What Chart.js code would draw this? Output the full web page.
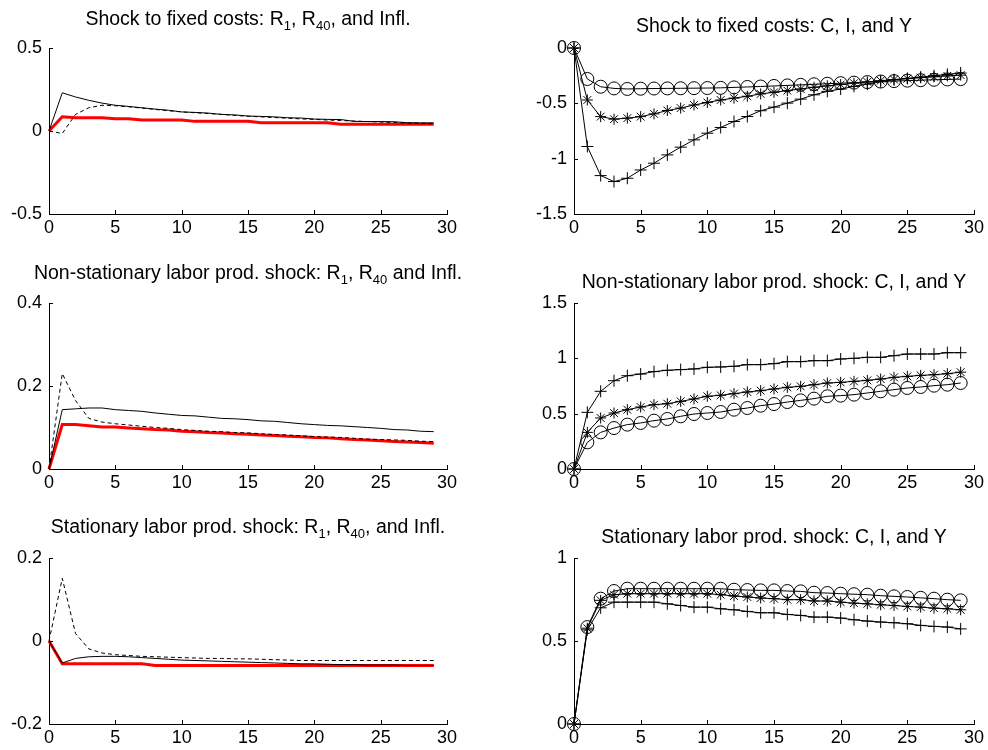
<!DOCTYPE html>
<html lang="en">
<head>
  <meta charset="UTF-8">
  <title>Impulse responses: R1, R40, Infl. and C, I, Y</title>
  <script src="https://cdn.jsdelivr.net/npm/chart.js"></script>
  <style>
    body { margin: 0; background: #fff; font-family: "Liberation Sans", Arial, sans-serif; }
    #page { position: relative; width: 988px; height: 750px; overflow: hidden; }
    .panel { position: absolute; width: 494px; height: 240px; }
    .ttl {
      position: absolute;
      font-size: 19.5px;
      line-height: 19px;
      white-space: nowrap;
      color: #000;
      transform: translateX(-50%);
    }
    .ttl sub { font-size: 13px; vertical-align: -5px; line-height: 0; }
  </style>
</head>
<body>
<div id="page">
  <canvas class="panel" id="c11" width="494" height="240" style="left:0;top:0"></canvas>
  <canvas class="panel" id="c12" width="494" height="240" style="left:494px;top:0"></canvas>
  <canvas class="panel" id="c21" width="494" height="240" style="left:0;top:255px"></canvas>
  <canvas class="panel" id="c22" width="494" height="240" style="left:494px;top:255px"></canvas>
  <canvas class="panel" id="c31" width="494" height="240" style="left:0;top:510px"></canvas>
  <canvas class="panel" id="c32" width="494" height="240" style="left:494px;top:510px"></canvas>

  <div class="ttl" style="left:248px;top:9px">Shock to fixed costs: R<sub>1</sub>, R<sub>40</sub>, and Infl.</div>
  <div class="ttl" style="left:774px;top:16px">Shock to fixed costs: C, I, and Y</div>
  <div class="ttl" style="left:248px;top:263px">Non-stationary labor prod. shock: R<sub>1</sub>, R<sub>40</sub> and Infl.</div>
  <div class="ttl" style="left:774px;top:272px">Non-stationary labor prod. shock: C, I, and Y</div>
  <div class="ttl" style="left:248px;top:517px">Stationary labor prod. shock: R<sub>1</sub>, R<sub>40</sub>, and Infl.</div>
  <div class="ttl" style="left:774px;top:527px">Stationary labor prod. shock: C, I, and Y</div>
</div>

<script>
// horizon (quarters)
const periods = [0, 1, 2, 3, 4, 5, 6, 7, 8, 9, 10, 11, 12, 13, 14, 15, 16, 17, 18, 19, 20, 21, 22, 23, 24, 25, 26, 27, 28, 29];
const xTicks = [0, 5, 10, 15, 20, 25, 30];

// shock to fixed costs
const fcR1   = [0, 0.23, 0.205, 0.185, 0.168, 0.155, 0.148, 0.14, 0.132, 0.125, 0.115, 0.112, 0.108, 0.1, 0.097, 0.09, 0.088, 0.085, 0.08, 0.078, 0.072, 0.07, 0.069, 0.058, 0.057, 0.057, 0.056, 0.05, 0.049, 0.049];
const fcR40  = [0, -0.015, 0.1, 0.14, 0.155, 0.152, 0.146, 0.138, 0.13, 0.122, 0.115, 0.11, 0.105, 0.1, 0.094, 0.089, 0.085, 0.081, 0.077, 0.073, 0.07, 0.066, 0.063, 0.06, 0.057, 0.054, 0.051, 0.048, 0.046, 0.044];
const fcInfl = [0, 0.086, 0.08, 0.08, 0.08, 0.074, 0.074, 0.066, 0.066, 0.066, 0.066, 0.058, 0.058, 0.058, 0.058, 0.058, 0.05, 0.05, 0.05, 0.05, 0.05, 0.05, 0.04, 0.04, 0.04, 0.04, 0.04, 0.04, 0.04, 0.04];
const fcC = [0, -0.28, -0.35, -0.365, -0.37, -0.368, -0.366, -0.365, -0.364, -0.363, -0.362, -0.36, -0.356, -0.352, -0.348, -0.343, -0.338, -0.333, -0.328, -0.323, -0.318, -0.313, -0.308, -0.303, -0.299, -0.295, -0.291, -0.287, -0.284, -0.281];
const fcI = [0, -0.89, -1.153, -1.207, -1.177, -1.102, -1.041, -0.966, -0.896, -0.83, -0.77, -0.718, -0.664, -0.619, -0.567, -0.534, -0.498, -0.462, -0.423, -0.392, -0.371, -0.347, -0.326, -0.305, -0.287, -0.275, -0.263, -0.251, -0.238, -0.226];
const fcY = [0, -0.47, -0.62, -0.643, -0.634, -0.62, -0.595, -0.565, -0.543, -0.515, -0.492, -0.47, -0.453, -0.436, -0.415, -0.4, -0.385, -0.37, -0.355, -0.342, -0.33, -0.318, -0.306, -0.295, -0.285, -0.277, -0.268, -0.26, -0.252, -0.245];

// non-stationary labor productivity shock
const nsR1   = [0, 0.143, 0.145, 0.147, 0.147, 0.143, 0.141, 0.139, 0.135, 0.132, 0.129, 0.128, 0.125, 0.122, 0.121, 0.119, 0.116, 0.115, 0.112, 0.109, 0.107, 0.105, 0.104, 0.102, 0.1, 0.098, 0.095, 0.094, 0.091, 0.09];
const nsR40  = [0, 0.23, 0.165, 0.122, 0.113, 0.109, 0.106, 0.103, 0.1, 0.098, 0.095, 0.093, 0.091, 0.09, 0.088, 0.087, 0.085, 0.083, 0.082, 0.08, 0.078, 0.077, 0.076, 0.074, 0.072, 0.071, 0.07, 0.069, 0.067, 0.066];
const nsInfl = [0, 0.107, 0.107, 0.104, 0.101, 0.101, 0.099, 0.097, 0.095, 0.094, 0.091, 0.09, 0.088, 0.087, 0.085, 0.084, 0.082, 0.081, 0.079, 0.078, 0.076, 0.075, 0.073, 0.071, 0.07, 0.068, 0.066, 0.065, 0.064, 0.062];
const nsC = [0, 0.241, 0.331, 0.37, 0.401, 0.416, 0.437, 0.452, 0.476, 0.497, 0.506, 0.515, 0.536, 0.551, 0.572, 0.587, 0.605, 0.62, 0.636, 0.657, 0.663, 0.672, 0.687, 0.702, 0.717, 0.732, 0.741, 0.753, 0.762, 0.777];
const nsI = [0, 0.512, 0.702, 0.798, 0.843, 0.858, 0.88, 0.892, 0.898, 0.904, 0.919, 0.922, 0.928, 0.943, 0.943, 0.952, 0.97, 0.97, 0.979, 0.979, 0.994, 1.0, 1.009, 1.009, 1.024, 1.039, 1.039, 1.039, 1.051, 1.051];
const nsY = [0, 0.331, 0.461, 0.506, 0.536, 0.56, 0.581, 0.59, 0.611, 0.633, 0.657, 0.666, 0.681, 0.696, 0.708, 0.723, 0.738, 0.747, 0.762, 0.777, 0.783, 0.792, 0.801, 0.813, 0.828, 0.837, 0.846, 0.852, 0.861, 0.875];

// stationary labor productivity shock
const stR1   = [0, -0.053, -0.042, -0.038, -0.037, -0.037, -0.038, -0.04, -0.042, -0.044, -0.046, -0.047, -0.048, -0.049, -0.05, -0.051, -0.052, -0.053, -0.054, -0.055, -0.055, -0.056, -0.057, -0.057, -0.058, -0.058, -0.058, -0.059, -0.059, -0.059];
const stR40  = [0, 0.151, 0.018, -0.019, -0.029, -0.033, -0.035, -0.037, -0.038, -0.039, -0.04, -0.041, -0.042, -0.042, -0.043, -0.043, -0.044, -0.045, -0.046, -0.047, -0.047, -0.047, -0.047, -0.047, -0.047, -0.047, -0.047, -0.047, -0.047, -0.047];
const stInfl = [0, -0.055, -0.055, -0.055, -0.055, -0.055, -0.055, -0.055, -0.059, -0.059, -0.059, -0.059, -0.059, -0.059, -0.059, -0.059, -0.059, -0.059, -0.059, -0.059, -0.059, -0.059, -0.059, -0.059, -0.059, -0.059, -0.059, -0.059, -0.059, -0.059];
const stC = [0, 0.584, 0.755, 0.801, 0.815, 0.815, 0.815, 0.815, 0.815, 0.815, 0.815, 0.815, 0.809, 0.807, 0.805, 0.805, 0.801, 0.799, 0.791, 0.789, 0.785, 0.782, 0.779, 0.773, 0.769, 0.765, 0.76, 0.755, 0.749, 0.745];
const stI = [0, 0.567, 0.7, 0.734, 0.734, 0.734, 0.734, 0.724, 0.714, 0.704, 0.704, 0.694, 0.688, 0.678, 0.67, 0.67, 0.66, 0.654, 0.644, 0.644, 0.638, 0.628, 0.62, 0.614, 0.61, 0.604, 0.594, 0.588, 0.584, 0.573];
const stY = [0, 0.577, 0.745, 0.779, 0.785, 0.785, 0.785, 0.785, 0.785, 0.785, 0.785, 0.779, 0.771, 0.765, 0.759, 0.755, 0.749, 0.749, 0.741, 0.741, 0.734, 0.728, 0.724, 0.718, 0.714, 0.708, 0.704, 0.698, 0.694, 0.688];

// y tick labels per panel
const yTicksFcRates = [-0.5, 0, 0.5];
const yTicksFcReal  = [-1.5, -1, -0.5, 0];
const yTicksNsRates = [0, 0.2, 0.4];
const yTicksNsReal  = [0, 0.5, 1, 1.5];
const yTicksStRates = [-0.2, 0, 0.2];
const yTicksStReal  = [0, 0.5, 1];

Chart.defaults.font.family = "'Liberation Sans', Arial, sans-serif";
Chart.defaults.font.size = 18;
Chart.defaults.color = "#000";

// MATLAB style tick marks pointing into the axes
const inwardTicks = {
  id: "inwardTicks",
  afterDraw(chart) {
    const ctx = chart.ctx, a = chart.chartArea;
    const xs = chart.scales.x, ys = chart.scales.y;
    ctx.save();
    ctx.strokeStyle = "#000";
    ctx.lineWidth = 1;
    ctx.beginPath();
    xs.ticks.forEach(t => {
      const px = Math.round(xs.getPixelForValue(t.value)) + 0.5;
      ctx.moveTo(px, a.bottom);
      ctx.lineTo(px, a.bottom - 4);
    });
    ys.ticks.forEach(t => {
      const py = Math.round(ys.getPixelForValue(t.value)) + 0.5;
      ctx.moveTo(a.left, py);
      ctx.lineTo(a.left + 4, py);
    });
    ctx.stroke();
    ctx.restore();
  }
};

const pts = vals => vals.map((v, i) => ({ x: periods[i], y: v }));

function rateSets(r1, r40, infl) {
  return [
    { data: pts(r1), borderColor: "#000", borderWidth: 1, pointRadius: 0 },
    { data: pts(r40), borderColor: "#000", borderWidth: 1, borderDash: [4, 3], pointRadius: 0 },
    { data: pts(infl), borderColor: "#ff0000", borderWidth: 3, pointRadius: 0 }
  ];
}

function realSets(c, inv, y) {
  const mk = (vals, style, r) => ({
    data: pts(vals), borderColor: "#000", borderWidth: 1,
    pointStyle: style, pointRadius: r, pointBorderColor: "#000",
    pointBackgroundColor: "rgba(0,0,0,0)", pointBorderWidth: 1
  });
  return [mk(c, "circle", 6.5), mk(inv, "cross", 6), mk(y, "star", 5.5)];
}

function makePanel(id, datasets, yTicks, rightCol) {
  const yMin = yTicks[0], yMax = yTicks[yTicks.length - 1];
  new Chart(document.getElementById(id), {
    type: "line",
    data: { datasets: datasets },
    plugins: [inwardTicks],
    options: {
      responsive: false,
      animation: false,
      events: [],
      layout: { padding: { top: 48, right: rightCol ? 14 : 47, left: 0, bottom: 0 } },
      plugins: { legend: { display: false }, tooltip: { enabled: false }, title: { display: false } },
      datasets: { line: { clip: false, tension: 0, fill: false } },
      scales: {
        x: {
          type: "linear", min: 0, max: 30,
          grid: { display: false, drawTicks: false, tickLength: 0 },
          border: { display: true, color: "#000", width: 1 },
          afterBuildTicks: s => { s.ticks = xTicks.map(v => ({ value: v })); },
          afterFit: s => { s.height = 26; },
          ticks: { padding: 3, maxRotation: 0, autoSkip: false, callback: v => String(v) }
        },
        y: {
          type: "linear", min: yMin, max: yMax,
          grid: { display: false, drawTicks: false, tickLength: 0 },
          border: { display: true, color: "#000", width: 1 },
          afterBuildTicks: s => { s.ticks = yTicks.map(v => ({ value: v })); },
          afterFit: s => { s.width = rightCol ? 80 : 49; },
          ticks: { padding: 7, autoSkip: false, callback: v => String(v) }
        }
      }
    }
  });
}

makePanel("c11", rateSets(fcR1, fcR40, fcInfl), yTicksFcRates, false);
makePanel("c12", realSets(fcC, fcI, fcY), yTicksFcReal, true);
makePanel("c21", rateSets(nsR1, nsR40, nsInfl), yTicksNsRates, false);
makePanel("c22", realSets(nsC, nsI, nsY), yTicksNsReal, true);
makePanel("c31", rateSets(stR1, stR40, stInfl), yTicksStRates, false);
makePanel("c32", realSets(stC, stI, stY), yTicksStReal, true);
</script>
</body>
</html>
